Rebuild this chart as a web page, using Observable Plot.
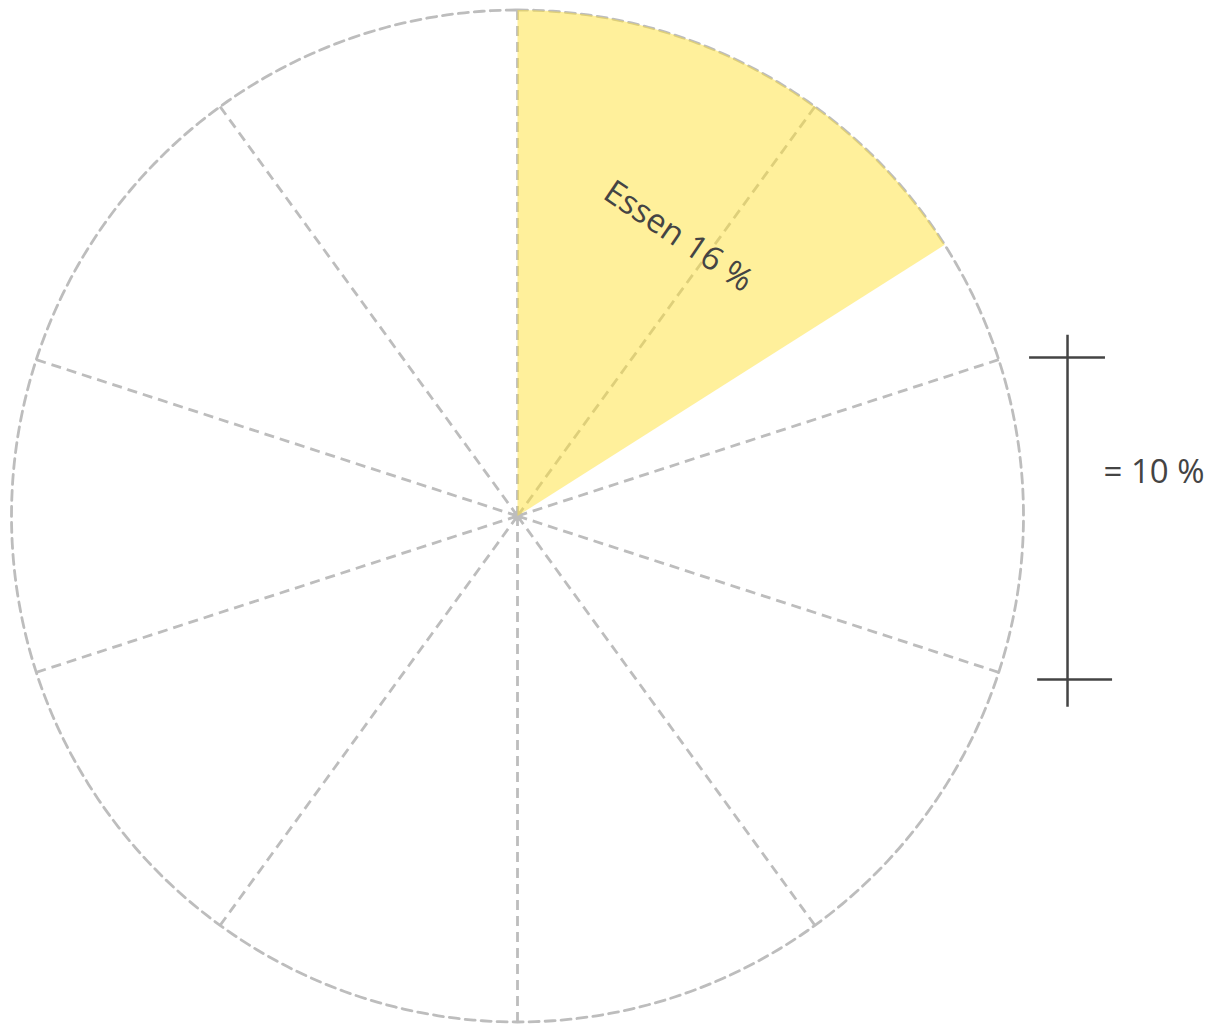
<!DOCTYPE html>
<html>
<head>
<meta charset="utf-8">
<script src="https://cdn.jsdelivr.net/npm/d3@7"></script>
<script src="https://cdn.jsdelivr.net/npm/@observablehq/plot@0.6"></script>
<style>
  body { margin: 0; background: #fff; }
  #chart svg { display: block; }
</style>
</head>
<body>
<div id="chart"></div>
<script>
// Data
const categories = ["Essen"];
const shares = [16];            // percent
const segmentCount = 10;        // grid segments of 10 % each
const scaleLabel = "= 10 %";

const W = 1218, H = 1024;
const cx = 517, cy = 515.5, R = 506;   // layout (pixel geometry of the circle)

const toXY = (pct, r = 1) => {
  const a = pct / 100 * 2 * Math.PI;
  return {x: r * Math.sin(a), y: r * Math.cos(a)};
};

// wedge polygon built from the data value
const wedge = [{x: 0, y: 0}];
const steps = 120;
for (let i = 0; i <= steps; i++) wedge.push(toXY(shares[0] * i / steps));

// full circle outline
const circle = d3.range(0, 361).map(i => toXY(i / 360 * 100));

// radial grid lines
const spokes = d3.range(segmentCount).map(k => ({...toXY(k * 100 / segmentCount), k}));

const mid = toXY(shares[0] / 2, 0.635);
const labels = [{x: mid.x, y: mid.y, text: `${categories[0]} ${shares[0]} %`}];

// scale bar (in radius units)
const bar = [{x: 1.087, y1: -0.378, y2: 0.357}];
const barTicks = [
  {x1: 1.012, x2: 1.162, y: 0.313},
  {x1: 1.028, x2: 1.176, y: -0.323}
];
const barLabel = [{x: 1.158, y: 0.086, text: scaleLabel}];

const gray = "#bdbdbd";
const dash = "10,6";
const font = "'Open Sans', Lato, sans-serif";

const chart = Plot.plot({
  width: W,
  height: H,
  margin: 0,
  x: {domain: [-cx / R, (W - cx) / R], range: [0, W], axis: null},
  y: {domain: [-(H - cy) / R, cy / R], range: [H, 0], axis: null},
  style: {background: "#fff", fontFamily: font},
  marks: [
    Plot.line(circle, {x: "x", y: "y", stroke: gray, strokeWidth: 2.8, strokeDasharray: dash, curve: "linear-closed"}),
    Plot.link(spokes, {x1: 0, y1: 0, x2: "x", y2: "y", stroke: gray, strokeWidth: 2.8, strokeDasharray: dash}),
    Plot.dot([{x: 0, y: 0}], {x: "x", y: "y", r: 5, fill: gray, stroke: "none"}),
    Plot.line(wedge, {x: "x", y: "y", fill: "#ffe137", fillOpacity: 0.5, stroke: "none", curve: "linear-closed"}),
    Plot.text(labels, {x: "x", y: "y", text: "text", rotate: 34, dx: 6, dy: 2, fontSize: 33, fill: "#444", textAnchor: "middle", fontFamily: font}),
    Plot.ruleX(bar, {x: "x", y1: "y1", y2: "y2", stroke: "#444", strokeWidth: 2.5}),
    Plot.ruleY(barTicks, {y: "y", x1: "x1", x2: "x2", stroke: "#444", strokeWidth: 2.5}),
    Plot.text(barLabel, {x: "x", y: "y", text: "text", fontSize: 33, fill: "#444", textAnchor: "start", fontFamily: font})
  ]
});
document.getElementById("chart").append(chart);
</script>
</body>
</html>
